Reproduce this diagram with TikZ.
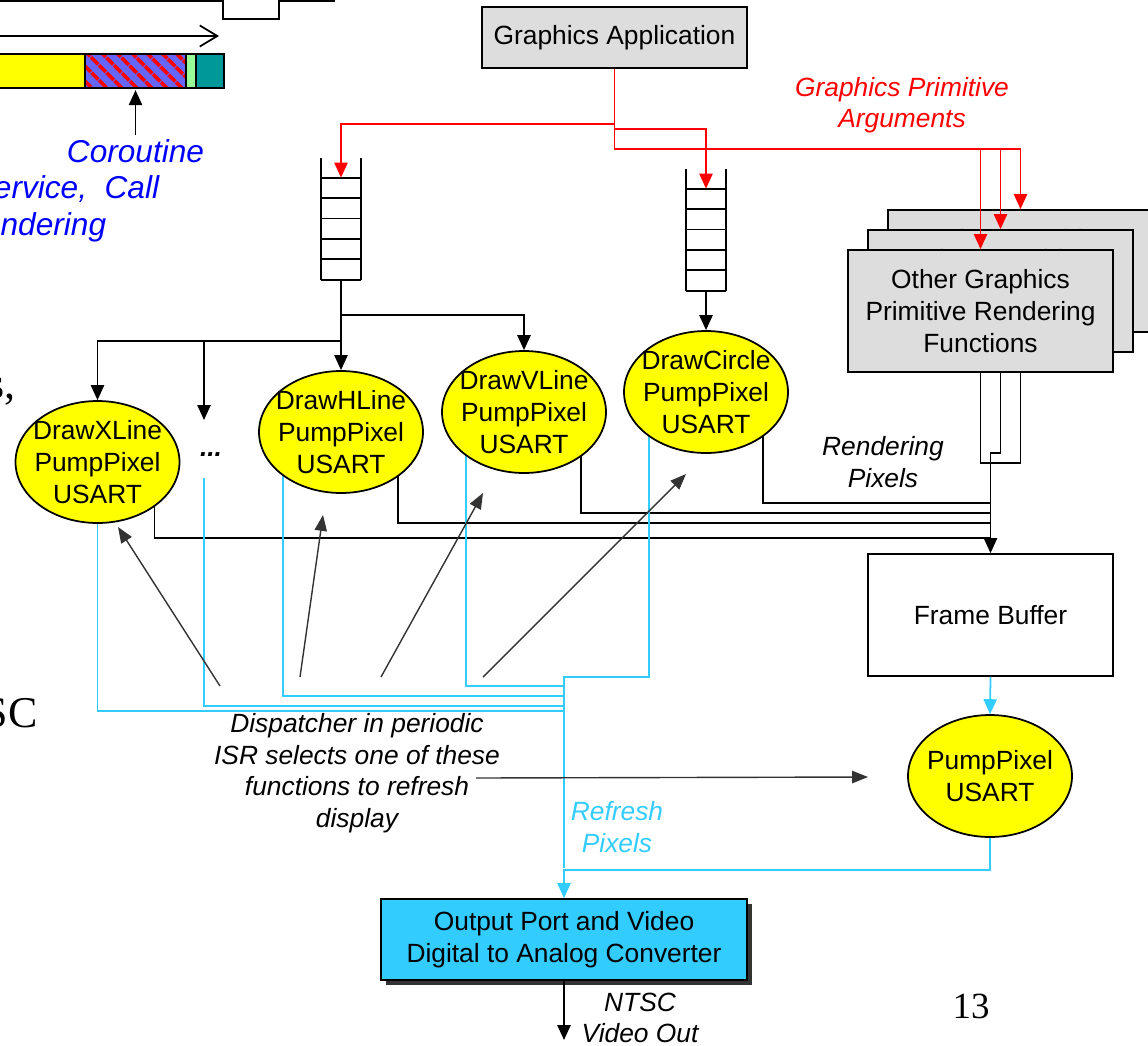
\documentclass[tikz,border=0pt]{standalone}
\usepackage{fontspec}
\setmainfont{Liberation Sans}
\newfontfamily\slideserif{Liberation Serif}
\usetikzlibrary{positioning,shapes.geometric,arrows.meta,patterns.meta,shadows,backgrounds}
\definecolor{BoxGray}{HTML}{DDDDDD}
\definecolor{FnYellow}{HTML}{FFFF00}
\definecolor{Refresh}{HTML}{33CCFF}
\definecolor{ArgRed}{HTML}{FF0000}
\definecolor{DispGray}{HTML}{333333}
\definecolor{NoteBlue}{HTML}{0000FF}
\definecolor{SliceBlue}{HTML}{6666FF}
\definecolor{SliceGreen}{HTML}{99FF99}
\definecolor{SliceTeal}{HTML}{009999}
\newcommand{\slidetext}{\fontsize{15}{18}\selectfont}

\begin{document}
\begin{tikzpicture}[
    x=0.02cm, y=-0.02cm,
    every node/.style={font=\slidetext, align=center},
    gbox/.style={draw, line width=1pt, fill=BoxGray, minimum width=5.3cm,
                 minimum height=2.44cm, inner sep=0pt},
    fn/.style={ellipse, draw, line width=1pt, fill=FnYellow, minimum width=3.28cm,
               minimum height=2.44cm, inner sep=-6pt},
    queue/.style={rectangle, minimum width=0.8cm, minimum height=2.04cm, inner sep=0pt},
    arr/.style={-{Triangle[length=8.5pt,width=7.5pt]}},
    wire/.style={line width=1pt},
    argwire/.style={wire, ArgRed, arr},
    pixwire/.style={wire, Refresh},
    pick/.style={line width=0.8pt, DispGray, -{Triangle[length=9pt,width=7pt]}},
    note/.style={font=\slidetext\itshape},
    bignote/.style={font=\fontsize{18}{21}\selectfont\itshape, text=NoteBlue, inner sep=2pt},
    cut/.style={font=\slideserif\fontsize{25}{30}\selectfont, inner sep=0pt}
  ]
  \useasboundingbox (0,0) rectangle (1148,1045);

  % time slice bar
  \draw[wire] (-10,1) -- (223,1) -- (223,19) -- (279,19) -- (279,1) -- (335,1);
  \draw[wire, -{Straight Barb[length=10pt,width=12pt]}] (-10,36) -- (219,36);
  \draw[wire, fill=FnYellow] (-10,54) rectangle (85,88);
  \node[draw, line width=1pt, preaction={fill=SliceBlue},
        pattern={Lines[angle=-45,distance=6.5pt,line width=2.4pt]}, pattern color=ArgRed,
        minimum width=2.02cm, minimum height=0.68cm, inner sep=0pt] (slice) at (135.5,71) {};
  \draw[wire, fill=SliceGreen] (186,54) rectangle (196,88);
  \draw[wire, fill=SliceTeal] (196,54) rectangle (224,88);
  \node[bignote, anchor=base] (coro) at (135.5,162) {Coroutine};
  \node[bignote, anchor=base east] (coro2) at (163,198) {ervice,\ \ Call};
  \node[bignote, anchor=base east] (coro3) at (110,235) {endering};
  \draw[wire, arr] (coro.north) -- (slice.south);

  \node[cut, anchor=base east] (cutA) at (16,398) {s,};
  \node[cut, anchor=base east] (cutB) at (38,727) {SC};
  \node[font=\slideserif\fontsize{21}{25}\selectfont, inner sep=0pt, anchor=base] (pagenum) at (971,1018) {13};

  % nodes
  \node[gbox, minimum height=1.22cm] (app) at (614.5,37.5) {Graphics Application};
  \node[note, text=ArgRed] (args) at (902,105) {Graphics Primitive\\Arguments};
  \node[queue] (q1) at (341,229) {};
  \node[queue] (q2) at (706,240) {};
  \foreach \q in {q1,q2} {
    \draw[wire] (\q.south west) -- ++(0,-122) (\q.south east) -- ++(0,-122);
    \foreach \k in {0,...,5} \draw[wire] (\q.north west) ++(0,20.4*\k) -- ++(40,0);
  }
  \node[gbox] (og3) at (1020.5,271) {Other Graphics\\Primitive Rendering\\Functions};
  \node[gbox] (og2) at (1000.5,291) {Other Graphics\\Primitive Rendering\\Functions};
  \node[gbox] (og1) at (980.5,311) {Other Graphics\\Primitive Rendering\\Functions};

  \node[fn] (xline) at (97.5,462) {DrawXLine\\PumpPixel\\USART};
  \node[fn] (hline) at (341,432) {DrawHLine\\PumpPixel\\USART};
  \node[fn] (vline) at (524,412) {DrawVLine\\PumpPixel\\USART};
  \node[fn] (circ) at (706,392) {DrawCircle\\PumpPixel\\USART};
  \node[font=\slidetext\bfseries\itshape] (more) at (211,455) {...};
  \coordinate (moretop) at (204,420);
  \coordinate (morebot) at (204,478);

  \node[draw, line width=1pt, fill=white, minimum width=4.9cm, minimum height=2.44cm] (fb) at (990.5,615) {Frame Buffer};
  \node[fn] (pump) at (990,776) {PumpPixel\\USART};
  \node[draw, line width=1pt, fill=Refresh, minimum width=7.32cm, minimum height=1.62cm,
        drop shadow={shadow xshift=0.1cm, shadow yshift=-0.1cm, fill=DispGray, opacity=1}]
        (out) at (564,939.5) {Output Port and Video\\Digital to Analog Converter};
  \coordinate (vidout) at (564,1040);

  \node[note] (rend) at (883,462) {Rendering\\Pixels};
  \node[note] (disp) at (357,773) {Dispatcher in periodic\\ISR selects one of these\\functions to refresh\\display};
  \node[note, text=Refresh] (refr) at (617,827) {Refresh\\Pixels};
  \node[note] (ntsc) at (640,1018) {NTSC\\Video Out};

  % arguments
  \draw[argwire] (app.south) -- ++(0,55) -| (q1.north);
  \draw[argwire] (app.south) -- ++(0,60) -| (q2.north);
  \draw[argwire] (app.south) -- ++(0,80) -| (og1.north);
  \draw[argwire] (app.south) -- ++(0,80) -| (og2.north);
  \draw[argwire] (app.south) -- ++(0,80) -| (og3.north);

  % queue to functions
  \draw[wire, arr] (q1.south) -- (hline.north);
  \draw[wire, arr] (q1.south) -- ++(0,35) -| (vline.north);
  \draw[wire, arr] (q1.south) -- ++(0,61) -| (xline.north);
  \draw[wire, arr] (q1.south) -- ++(0,61) -| (moretop);
  \draw[wire, arr] (q2.south) -- (circ.north);

  \begin{pgfonlayer}{background}
    \draw[wire] (xline.center) ++(57,0) -- ++(0,76) -| ([yshift=0.4cm]fb.north);
    \draw[wire] (hline.center) ++(57,0) -- ++(0,91) -| ([yshift=0.4cm]fb.north);
    \draw[wire] (vline.center) ++(57,0) -- ++(0,101) -| ([yshift=0.4cm]fb.north);
    \draw[wire] (circ.center) ++(57,0) -- ++(0,111) -| ([yshift=0.4cm]fb.north);
    \draw[wire] (og1.south) -- ++(0,90) -| (og3.south);
    \draw[wire, arr] (og2.south) -- ++(0,100) -| (fb.north);

    \draw[pixwire] (xline.center) -- ++(0,249) -| ([yshift=0.6cm]out.north);
    \draw[pixwire] (morebot) -- ++(0,228) -| ([yshift=0.6cm]out.north);
    \draw[pixwire] (hline.center) ++(-58,0) -- ++(0,264) -| ([yshift=0.6cm]out.north);
    \draw[pixwire] (vline.center) ++(-58,0) -- ++(0,274) -| ([yshift=0.6cm]out.north);
    \draw[pixwire] (circ.center) ++(-57,0) -- ++(0,285) -| ([yshift=0.6cm]out.north);
    \draw[pixwire, arr] (pump.south) -- ++(0,32) -| (out.north);
  \end{pgfonlayer}
  \draw[pixwire, arr] (fb.south) -- (pump.north);
  \draw[wire, arr] (out.south) -- (vidout);

  % dispatcher
  \coordinate (pickX) at (220,686);
  \coordinate (pickH) at (300,677);
  \coordinate (pickV) at (381,677);
  \coordinate (pickC) at (483,677);
  \coordinate (pickP) at (476,778);
  \coordinate (headX) at (118,527);
  \coordinate (headH) at (323,515);
  \coordinate (headV) at (483,493);
  \coordinate (headC) at (686,474);
  \coordinate (headP) at (868,777);
  \draw[pick] (pickX) -- (headX);
  \draw[pick] (pickH) -- (headH);
  \draw[pick] (pickV) -- (headV);
  \draw[pick] (pickC) -- (headC);
  \draw[pick] (pickP) -- (headP);
\end{tikzpicture}
\end{document}
